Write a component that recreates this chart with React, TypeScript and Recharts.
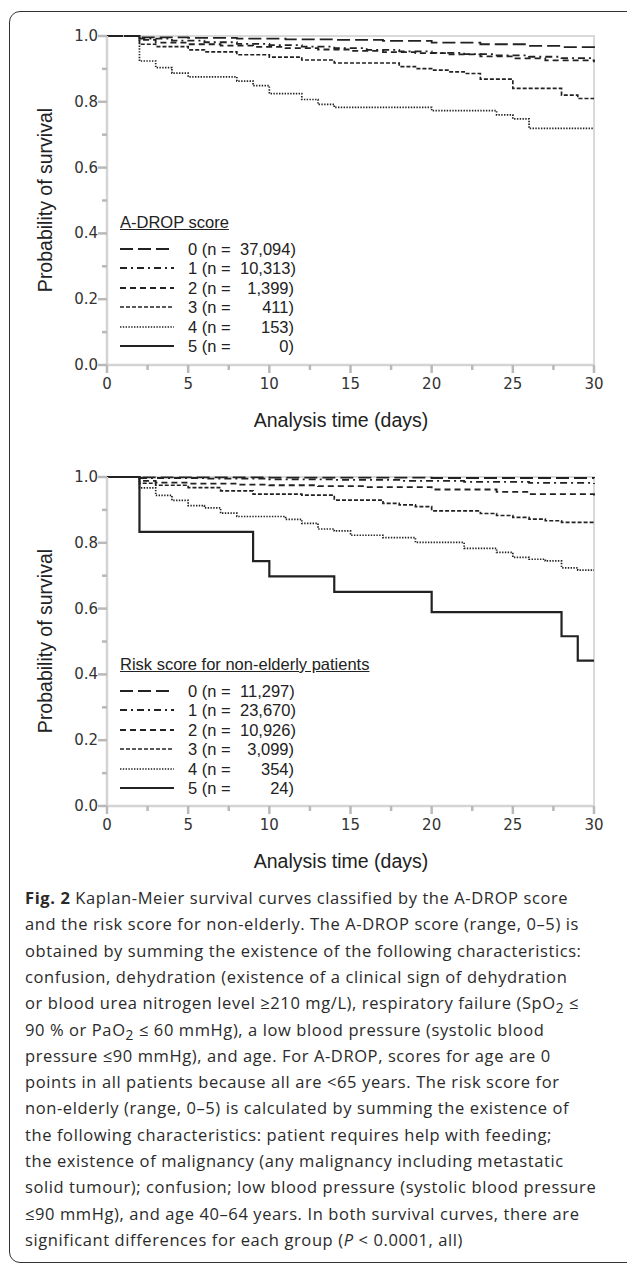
import { Line, LineChart, XAxis, YAxis } from 'recharts';

// time axis (days) and survival axis ticks
const dayTicks = [0, 2.5, 5, 7.5, 10, 12.5, 15, 17.5, 20, 22.5, 25, 27.5, 30];
const survTicks = [0, 0.1, 0.2, 0.3, 0.4, 0.5, 0.6, 0.7, 0.8, 0.9, 1.0];

const scoreLabels = ['0', '1', '2', '3', '4', '5'];
const adropCounts = ['37,094', '10,313', '1,399', '411', '153', '0'];
const riskCounts = ['11,297', '23,670', '10,926', '3,099', '354', '24'];

// [day, survival]
const adrop0 = [[0, 1], [2, 0.996], [5, 0.994], [8, 0.992], [11, 0.99], [14, 0.988], [17, 0.985], [20, 0.98], [23, 0.975], [26, 0.97], [28, 0.966], [30, 0.963]];
const adrop1 = [[0, 1], [2, 0.992], [4, 0.986], [6, 0.981], [8, 0.976], [10, 0.972], [12, 0.968], [14, 0.963], [16, 0.958], [18, 0.953], [20, 0.949], [22, 0.945], [24, 0.941], [26, 0.937], [28, 0.933], [30, 0.93]];
const adrop2 = [[0, 1], [2, 0.988], [3, 0.98], [5, 0.975], [7, 0.971], [9, 0.967], [11, 0.963], [13, 0.959], [15, 0.955], [17, 0.951], [19, 0.948], [21, 0.944], [23, 0.938], [25, 0.932], [27, 0.926], [30, 0.92]];
const adrop3 = [[0, 1], [2, 0.975], [3, 0.968], [5, 0.958], [6, 0.952], [8, 0.943], [10, 0.936], [12, 0.927], [14, 0.918], [18, 0.907], [19, 0.901], [20, 0.896], [21, 0.891], [22, 0.886], [23, 0.869], [25, 0.841], [28, 0.82], [29, 0.81], [30, 0.81]];
const adrop4 = [[0, 1], [2, 0.924], [3, 0.904], [4, 0.887], [5, 0.876], [8, 0.863], [9, 0.849], [10, 0.825], [12, 0.807], [13, 0.792], [14, 0.783], [20, 0.773], [24, 0.76], [25, 0.748], [26, 0.719], [30, 0.719]];

// [day, survival]
const risk0 = [[0, 1], [2, 0.999], [10, 0.998], [20, 0.997], [30, 0.996]];
const risk1 = [[0, 1], [2, 0.997], [6, 0.995], [10, 0.993], [14, 0.991], [18, 0.988], [22, 0.985], [26, 0.982], [30, 0.979]];
const risk2 = [[0, 1], [2, 0.988], [3, 0.983], [5, 0.98], [8, 0.977], [10, 0.975], [13, 0.972], [16, 0.969], [20, 0.962], [24, 0.955], [26, 0.948], [30, 0.944]];
const risk3 = [[0, 1], [2, 0.981], [3, 0.975], [5, 0.968], [7, 0.958], [9, 0.948], [12, 0.945], [14, 0.93], [17, 0.92], [18, 0.915], [19, 0.91], [20, 0.897], [23, 0.889], [24, 0.883], [25, 0.877], [26, 0.872], [27, 0.867], [28, 0.862], [30, 0.862]];
const risk4 = [[0, 1], [2, 0.967], [3, 0.944], [4, 0.929], [5, 0.913], [6, 0.906], [7, 0.89], [8, 0.88], [11, 0.871], [12, 0.859], [13, 0.842], [14, 0.836], [15, 0.823], [17, 0.816], [19, 0.801], [22, 0.783], [24, 0.771], [25, 0.756], [26, 0.75], [27, 0.745], [28, 0.724], [29, 0.717], [30, 0.717]];
const risk5 = [[0, 1], [2, 0.833], [9, 0.744], [10, 0.698], [14, 0.651], [20, 0.589], [28, 0.516], [29, 0.442], [30, 0.442]];

const captionLines = [
  'and the risk score for non-elderly. The A-DROP score (range, 0–5) is',
  'obtained by summing the existence of the following characteristics:',
  'confusion, dehydration (existence of a clinical sign of dehydration',
];

const INK = '#222';
const lineStyles = [
  { dash: '13 5', width: 1.8 },
  { dash: '7 4 2 4', width: 1.8 },
  { dash: '6 4', width: 1.8 },
  { dash: '4 2', width: 1.7 },
  { dash: '1.4 1.4', width: 1.7 },
  { dash: undefined, width: 2.2 },
];

const toRows = (pts: number[][]) => pts.map(([t, s]) => ({ t, s }));

function YTick(props: any) {
  const { x, y, payload } = props;
  const v = payload.value as number;
  const major = Math.round(v * 10) % 2 === 0;
  return (
    <g>
      <line x1={x - (major ? 9 : 5)} x2={x} y1={y} y2={y} stroke="#b9b9b9" strokeWidth={2.5} />
      {major && (
        <text x={x - 9} y={y} textAnchor="end" dominantBaseline="central" fontFamily="DejaVu Sans" fontSize={15} fill="#333">
          {v.toFixed(1)}
        </text>
      )}
    </g>
  );
}

function XTick(props: any) {
  const { x, y, payload } = props;
  const v = payload.value as number;
  const major = v % 5 === 0;
  return (
    <g>
      <line x1={x} x2={x} y1={y} y2={y + (major ? 8 : 5)} stroke="#b9b9b9" strokeWidth={2.5} />
      {major && (
        <text x={x} y={y + 19} textAnchor="middle" dominantBaseline="central" fontFamily="DejaVu Sans" fontSize={15} fill="#333">
          {v}
        </text>
      )}
    </g>
  );
}

function LegendBox({ top, title, counts }: { top: number; title: string; counts: string[] }) {
  return (
    <div style={{ position: 'absolute', left: 0, top: 0, fontFamily: 'Liberation Sans', fontSize: 16.5, color: INK }}>
      <div style={{ position: 'absolute', left: 120, top: top - 10, lineHeight: '20px', textDecoration: 'underline', whiteSpace: 'nowrap' }}>{title}</div>
      {scoreLabels.map((s, i) => {
        const cy = top + 27 + i * 19.4;
        const st = lineStyles[i];
        return (
          <div key={s}>
            <svg style={{ position: 'absolute', left: 120, top: cy - 3 }} width={54} height={6}>
              <line x1={0} x2={54} y1={3} y2={3} stroke={INK} strokeWidth={st.width} strokeDasharray={st.dash} />
            </svg>
            <div style={{ position: 'absolute', left: 188, top: cy - 10, lineHeight: '20px', whiteSpace: 'nowrap' }}>{s} (n =</div>
            <div style={{ position: 'absolute', left: 240, width: 54, top: cy - 10, lineHeight: '20px', textAlign: 'right', whiteSpace: 'nowrap' }}>{counts[i]})</div>
          </div>
        );
      })}
    </div>
  );
}

function KMPanel({ top, series }: { top: number; series: number[][][] }) {
  return (
    <>
      <div style={{ position: 'absolute', left: 107, top: top + 35, width: 487, height: 330, boxSizing: 'border-box', borderTop: '2.5px solid #d9d9d9', borderRight: '2.5px solid #d9d9d9', marginLeft: 1.25 }} />
      <div style={{ position: 'absolute', left: 0, top }}>
        <LineChart width={627} height={400} margin={{ top: 36, right: 33, bottom: 0, left: 47 }}>
          <XAxis dataKey="t" type="number" domain={[0, 30]} ticks={dayTicks} interval={0} tickSize={0} tickMargin={0} height={35}
            axisLine={{ stroke: '#d4d4d4', strokeWidth: 2.5 }} tick={<XTick />} />
          <YAxis type="number" domain={[0, 1]} ticks={survTicks} interval={0} tickSize={0} tickMargin={0} width={60}
            axisLine={{ stroke: '#d4d4d4', strokeWidth: 2.5 }} tick={<YTick />} />
          {series.map((pts, i) => {
            const st = lineStyles[i];
            return (
              <Line key={i} data={toRows(pts)} dataKey="s" type="stepAfter" stroke={INK} strokeWidth={st.width}
                strokeDasharray={st.dash} dot={false} activeDot={false} isAnimationActive={false} />
            );
          })}
        </LineChart>
      </div>
      <div style={{ position: 'absolute', left: 45, top: top + 200, transform: 'translate(-50%, -50%) rotate(-90deg)', whiteSpace: 'nowrap', fontFamily: 'Liberation Sans', fontSize: 19.5, color: INK }}>
        Probability of survival
      </div>
      <div style={{ position: 'absolute', left: 341, top: top + 420, transform: 'translate(-50%, -50%)', whiteSpace: 'nowrap', fontFamily: 'Liberation Sans', fontSize: 19.5, color: INK }}>
        Analysis time (days)
      </div>
    </>
  );
}

const restCaption = [
  <>or blood urea nitrogen level ≥210 mg/L), respiratory failure (SpO<sub>2</sub> ≤</>,
  <>90 % or PaO<sub>2</sub> ≤ 60 mmHg), a low blood pressure (systolic blood</>,
  <>pressure ≤90 mmHg), and age. For A-DROP, scores for age are 0</>,
  <>points in all patients because all are &lt;65 years. The risk score for</>,
  <>non-elderly (range, 0–5) is calculated by summing the existence of</>,
  <>the following characteristics: patient requires help with feeding;</>,
  <>the existence of malignancy (any malignancy including metastatic</>,
  <>solid tumour); confusion; low blood pressure (systolic blood pressure</>,
  <>≤90 mmHg), and age 40–64 years. In both survival curves, there are</>,
  <>significant differences for each group (<i>P</i> &lt; 0.0001, all)</>,
];

export default function App() {
  const lines = [
    <><b>Fig. 2</b> Kaplan-Meier survival curves classified by the A-DROP score</>,
    ...captionLines.map((l) => <>{l}</>),
    ...restCaption,
  ];
  return (
    <div style={{ position: 'absolute', left: 0, top: 0, width: 627, height: 1263, overflow: 'hidden', background: '#fff' }}>
      <div style={{ position: 'absolute', left: 9, top: 10.5, width: 640, height: 1252, boxSizing: 'border-box', border: '1.5px solid #333', borderRadius: 11 }} />
      <KMPanel top={0} series={[adrop0, adrop1, adrop2, adrop3, adrop4]} />
      <LegendBox top={222} title="A-DROP score" counts={adropCounts} />
      <KMPanel top={441} series={[risk0, risk1, risk2, risk3, risk4, risk5]} />
      <LegendBox top={664} title="Risk score for non-elderly patients" counts={riskCounts} />
      {lines.map((l, i) => (
        <div key={i} style={{ position: 'absolute', left: 25, top: 898 + i * 26.3 - 13, lineHeight: '26px', whiteSpace: 'nowrap', fontFamily: 'Open Sans', fontSize: 16.5, letterSpacing: 0.6, color: '#2a2a2a' }}>
          {l}
        </div>
      ))}
    </div>
  );
}
